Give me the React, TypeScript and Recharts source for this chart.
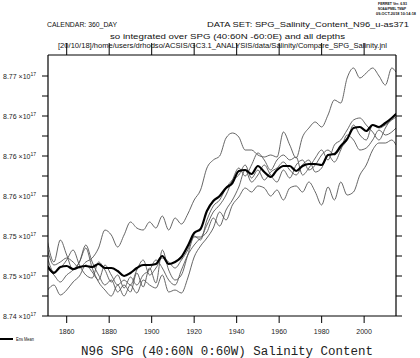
import React from 'react';
import { LineChart, Line, XAxis, YAxis } from 'recharts';

// Model years (annual data sampled every 3 years)
const years = [
  1851, 1854, 1857, 1860, 1863, 1866, 1869, 1872, 1875, 1878,
  1881, 1884, 1887, 1890, 1893, 1896, 1899, 1902, 1905, 1908,
  1911, 1914, 1917, 1920, 1923, 1926, 1929, 1932, 1935, 1938,
  1941, 1944, 1947, 1950, 1953, 1956, 1959, 1962, 1965, 1968,
  1971, 1974, 1977, 1980, 1983, 1986, 1989, 1992, 1995, 1998,
  2001, 2004, 2007, 2010, 2013, 2015,
];

// Salinity content, units of 1e17
const ensMean = [
  8.7490, 8.7483, 8.7489, 8.7490, 8.7487, 8.7489, 8.7490, 8.7489, 8.7492, 8.7488,
  8.7488, 8.7485, 8.7480, 8.7483, 8.7488, 8.7491, 8.7491, 8.7492, 8.7500, 8.7492,
  8.7494, 8.7499, 8.7510, 8.7523, 8.7527, 8.7545, 8.7555, 8.7560, 8.7568, 8.7573,
  8.7585, 8.7586, 8.7582, 8.7590, 8.7584, 8.7579, 8.7586, 8.7590, 8.7590, 8.7585,
  8.7590, 8.7592, 8.7592, 8.7591, 8.7601, 8.7602, 8.7610, 8.7617, 8.7628, 8.7629,
  8.7625, 8.7631, 8.7629, 8.7633, 8.7638, 8.7642,
];

const member1 = [
  8.7506, 8.7491, 8.7494, 8.7498, 8.7494, 8.7488, 8.7494, 8.7498, 8.7508, 8.7526,
  8.7521, 8.7509, 8.7521, 8.7534, 8.7528, 8.7526, 8.7534, 8.7528, 8.7540, 8.7526,
  8.7538, 8.7532, 8.7542, 8.7556, 8.7566, 8.7588, 8.7596, 8.7600, 8.7618, 8.7623,
  8.7619, 8.7606, 8.7606, 8.7601, 8.7599, 8.7601, 8.7599, 8.7624, 8.7611, 8.7598,
  8.7619, 8.7628, 8.7634, 8.7629, 8.7641, 8.7656, 8.7653, 8.7678, 8.7688, 8.7678,
  8.7683, 8.7688, 8.7680, 8.7671, 8.7688, 8.7684,
];

const member2 = [
  8.7514, 8.7494, 8.7516, 8.7501, 8.7486, 8.7494, 8.7511, 8.7494, 8.7481, 8.7471,
  8.7476, 8.7464, 8.7471, 8.7464, 8.7483, 8.7469, 8.7488, 8.7473, 8.7506, 8.7486,
  8.7476, 8.7481, 8.7501, 8.7519, 8.7519, 8.7531, 8.7544, 8.7551, 8.7561, 8.7576,
  8.7588, 8.7580, 8.7591, 8.7603, 8.7596, 8.7586, 8.7596, 8.7601, 8.7596, 8.7599,
  8.7581, 8.7588, 8.7598, 8.7606, 8.7596, 8.7611, 8.7616, 8.7626, 8.7636, 8.7638,
  8.7631, 8.7624, 8.7616, 8.7628, 8.7638, 8.7643,
];

const member3 = [
  8.7498, 8.7484, 8.7488, 8.7496, 8.7506, 8.7491, 8.7481, 8.7478, 8.7494, 8.7486,
  8.7474, 8.7481, 8.7468, 8.7479, 8.7471, 8.7481, 8.7486, 8.7496, 8.7488, 8.7476,
  8.7471, 8.7486, 8.7501, 8.7511, 8.7518, 8.7524, 8.7538, 8.7530, 8.7546, 8.7556,
  8.7569, 8.7586, 8.7574, 8.7581, 8.7591, 8.7581, 8.7574, 8.7586, 8.7578, 8.7591,
  8.7596, 8.7586, 8.7591, 8.7601, 8.7606, 8.7601, 8.7608, 8.7616, 8.7631, 8.7621,
  8.7616, 8.7631, 8.7628, 8.7631, 8.7636, 8.7639,
];

const member4 = [
  8.7488, 8.7481, 8.7474, 8.7481, 8.7486, 8.7494, 8.7508, 8.7488, 8.7474, 8.7466,
  8.7460, 8.7471, 8.7460, 8.7471, 8.7463, 8.7476, 8.7471, 8.7468, 8.7481, 8.7464,
  8.7466, 8.7463, 8.7478, 8.7499, 8.7510, 8.7518, 8.7528, 8.7544, 8.7536, 8.7551,
  8.7559, 8.7568, 8.7564, 8.7570, 8.7568, 8.7560, 8.7566, 8.7556, 8.7568, 8.7570,
  8.7564, 8.7574, 8.7564, 8.7551, 8.7569, 8.7556, 8.7574, 8.7561, 8.7564, 8.7581,
  8.7591, 8.7606, 8.7613, 8.7613, 8.7616, 8.7611,
];

const member5 = [
  8.7466, 8.7471, 8.7461, 8.7466, 8.7474, 8.7480, 8.7491, 8.7484, 8.7476, 8.7491,
  8.7481, 8.7471, 8.7476, 8.7471, 8.7486, 8.7496, 8.7481, 8.7488, 8.7498, 8.7494,
  8.7488, 8.7496, 8.7506, 8.7520, 8.7516, 8.7536, 8.7550, 8.7556, 8.7568, 8.7576,
  8.7581, 8.7591, 8.7578, 8.7586, 8.7576, 8.7584, 8.7588, 8.7594, 8.7586, 8.7581,
  8.7591, 8.7596, 8.7584, 8.7588, 8.7601, 8.7594, 8.7606, 8.7621, 8.7616, 8.7606,
  8.7608, 8.7616, 8.7626, 8.7621, 8.7624, 8.7628,
];

const xTicks = [1860, 1880, 1900, 1920, 1940, 1960, 1980, 2000];
const yTicks = [
  8.744, 8.746, 8.748, 8.750, 8.752, 8.754, 8.756,
  8.758, 8.760, 8.762, 8.764, 8.766, 8.768,
];
const yLabelTicks = [8.744, 8.748, 8.752, 8.756, 8.760, 8.764, 8.768];

const xDomain: [number, number] = [1851.2, 2015];
const yDomain: [number, number] = [8.744, 8.7701];

const data = years.map((year, i) => ({
  year,
  mean: ensMean[i],
  m1: member1[i],
  m2: member2[i],
  m3: member3[i],
  m4: member4[i],
  m5: member5[i],
}));

const FONT = '"Liberation Sans", Arial, sans-serif';

const YTick = (props: any) => {
  const { x, y, payload } = props;
  const v = payload.value as number;
  const show = yLabelTicks.some((t) => Math.abs(t - v) < 1e-7);
  if (!show) return <g />;
  return (
    <text x={x} y={y} dy={2.5} textAnchor="end" fontSize={7} fontFamily={FONT} fill="#222">
      {v.toFixed(2)} ×10
      <tspan dy={-3} fontSize={5}>17</tspan>
    </text>
  );
};

const XTick = (props: any) => {
  const { x, y, payload } = props;
  return (
    <text x={x} y={y} dy={7.5} textAnchor="middle" fontSize={7} fontFamily={FONT} fill="#222">
      {payload.value}
    </text>
  );
};

const NoTick = () => <g />;

const memberKeys = ['m1', 'm2', 'm3', 'm4', 'm5'];

export default function App() {
  return (
    <div style={{ position: 'absolute', left: 0, top: 0, width: 420, height: 358, background: '#fff' }}>
      <div style={{ position: 'absolute', left: 0, top: 0 }}>
        <LineChart width={420} height={358} data={data} margin={{ top: 0, right: 0, bottom: 0, left: 0 }}>
          <XAxis
            dataKey="year"
            type="number"
            domain={xDomain}
            ticks={xTicks}
            interval={0}
            allowDataOverflow
            height={42}
            tickSize={7}
            tickMargin={3}
            tick={XTick}
            axisLine={{ stroke: '#000', strokeWidth: 1 }}
            tickLine={{ stroke: '#000', strokeWidth: 1 }}
          />
          <XAxis
            xAxisId="top"
            orientation="top"
            dataKey="year"
            type="number"
            domain={xDomain}
            ticks={xTicks}
            interval={0}
            allowDataOverflow
            height={55}
            tickSize={12}
            tick={NoTick}
            axisLine={{ stroke: '#000', strokeWidth: 1 }}
            tickLine={{ stroke: '#000', strokeWidth: 1 }}
          />
          <YAxis
            type="number"
            domain={yDomain}
            ticks={yTicks}
            interval={0}
            allowDataOverflow
            width={48}
            tickSize={6}
            tickMargin={6}
            tick={YTick}
            axisLine={{ stroke: '#000', strokeWidth: 1.2 }}
            tickLine={{ stroke: '#000', strokeWidth: 1 }}
          />
          <YAxis
            yAxisId="right"
            orientation="right"
            type="number"
            domain={yDomain}
            ticks={yTicks}
            interval={0}
            allowDataOverflow
            width={24}
            tickSize={6}
            tick={NoTick}
            axisLine={{ stroke: '#000', strokeWidth: 1.2 }}
            tickLine={{ stroke: '#000', strokeWidth: 1 }}
          />
          {memberKeys.map((k) => (
            <Line
              key={k}
              dataKey={k}
              type="monotone"
              stroke="#555"
              strokeWidth={0.9}
              dot={false}
              activeDot={false}
              isAnimationActive={false}
            />
          ))}
          <Line
            dataKey="mean"
            type="monotone"
            stroke="#000"
            strokeWidth={2.2}
            dot={false}
            activeDot={false}
            isAnimationActive={false}
          />
        </LineChart>
      </div>
      <svg
        width={420}
        height={358}
        style={{ position: 'absolute', left: 0, top: 0, pointerEvents: 'none' }}
      >
        <g fontFamily={FONT} fill="#111" fontWeight="bold">
          <text x={378} y={4.5} fontSize={4.2} textLength={29} lengthAdjust="spacingAndGlyphs">FERRET Ver. 6.93</text>
          <text x={378} y={9.5} fontSize={4.2} textLength={28} lengthAdjust="spacingAndGlyphs">NOAA/PMEL TMAP</text>
          <text x={376} y={14.5} fontSize={3.6} textLength={40} lengthAdjust="spacingAndGlyphs">09-OCT-2018 10:14:18</text>
        </g>
        <g fontFamily={FONT} fill="#111">
          <text x={47} y={26.5} fontSize={8} textLength={70} lengthAdjust="spacingAndGlyphs">CALENDAR: 360_DAY</text>
          <text x={207} y={26.5} fontSize={8} textLength={202} lengthAdjust="spacingAndGlyphs">DATA SET: SPG_Salinity_Content_N96_u-as371</text>
          <text x={110} y={39} fontSize={8} textLength={235} lengthAdjust="spacingAndGlyphs">so integrated over SPG (40:60N -60:0E) and all depths</text>
          <text x={58} y={48} fontSize={6.5} textLength={329} lengthAdjust="spacingAndGlyphs">[20/10/18]/home/users/drhodso/ACSIS/GC3.1_ANALYSIS/data/Salinity/Compare_SPG_Salinity.jnl</text>
        </g>
        <line x1={0} y1={339} x2={13} y2={339} stroke="#000" strokeWidth={2} />
        <text x={16} y={341} fontSize={4.5} fontFamily={FONT} fill="#111" textLength={18} lengthAdjust="spacingAndGlyphs">Ens Mean</text>
        <text
          x={81}
          y={354.5}
          fontSize={12}
          fontFamily='"Liberation Mono", "DejaVu Sans Mono", monospace'
          fill="#222"
          textLength={292}
          lengthAdjust="spacingAndGlyphs"
        >
          N96 SPG (40:60N 0:60W) Salinity Content
        </text>
      </svg>
    </div>
  );
}
